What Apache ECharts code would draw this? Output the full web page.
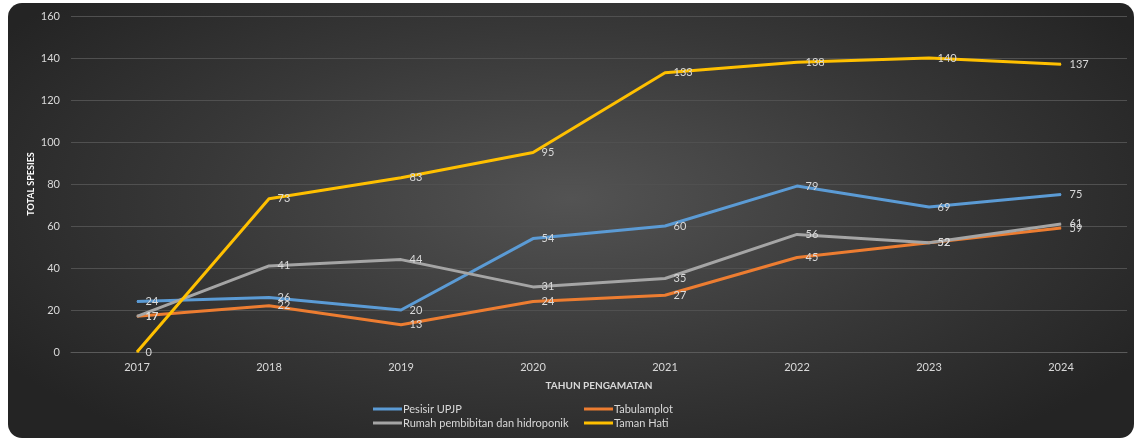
<!DOCTYPE html>
<html>
<head>
<meta charset="utf-8">
<script src="https://cdn.jsdelivr.net/npm/echarts@6/dist/echarts.min.js"></script>
<style>
html,body{margin:0;padding:0;background:#ffffff;width:1134px;height:438px;overflow:hidden;}
#bg{position:absolute;left:8px;top:3px;width:1126px;height:435px;border-radius:14px;
background:radial-gradient(ellipse 60% 70% at 50% 45%, #535353 0%, #383838 55%, #242424 100%);}
#chart{position:absolute;left:0;top:0;width:1134px;height:438px;}
</style>
</head>
<body>
<div id="bg"></div>
<div id="chart"></div>
<script>
const years = ['2017','2018','2019','2020','2021','2022','2023','2024'];
const pesisirUPJP = [24, 26, 20, 54, 60, 79, 69, 75];
const tabulamplot = [17, 22, 13, 24, 27, 45, 52, 59];
const rumahPembibitan = [17, 41, 44, 31, 35, 56, 52, 61];
const tamanHati = [0, 73, 83, 95, 133, 138, 140, 137];
const seriesNames = ['Pesisir UPJP','Tabulamplot','Rumah pembibitan dan hidroponik','Taman Hati'];
const seriesColors = ['#5B9BD5','#ED7D31','#A5A5A5','#FFC000'];
const seriesData = [pesisirUPJP, tabulamplot, rumahPembibitan, tamanHati];

const font = 'Lato, "Open Sans", sans-serif';
const legendPos = [[373, 402], [584, 402], [373, 416], [584, 416]];
const chart = echarts.init(document.getElementById('chart'));
chart.setOption({
  backgroundColor: 'transparent',
  textStyle: {fontFamily: font},
  grid: {left: 71, right: 7, top: 16, bottom: 86, containLabel: false},
  legend: seriesNames.map((n, i) => ({
    data: [n], orient: 'horizontal', left: legendPos[i][0], top: legendPos[i][1], padding: 0,
    itemWidth: 29, itemHeight: 3, itemGap: 0, icon: 'rect', selectedMode: false,
    textStyle: {color: '#d9d9d9', fontSize: 11, lineHeight: 14, padding: [0,0,0,-4]}
  })),
  xAxis: {
    type: 'category', data: years, boundaryGap: true,
    name: 'TAHUN PENGAMATAN', nameLocation: 'middle', nameGap: 29, nameMoveOverlap: false,
    nameTextStyle: {color: '#d9d9d9', fontSize: 10, fontWeight: 'bold'},
    axisLine: {lineStyle: {color: '#5a5a5a'}},
    axisTick: {show: false},
    axisLabel: {color: '#d9d9d9', fontSize: 11, margin: 10}
  },
  yAxis: {
    type: 'value', min: 0, max: 160, interval: 20,
    name: 'TOTAL SPESIES', nameLocation: 'middle', nameGap: 35, nameRotate: 90, nameMoveOverlap: false,
    nameTextStyle: {color: '#ffffff', fontSize: 9, fontWeight: 'bold'},
    axisLine: {show: false}, axisTick: {show: false},
    axisLabel: {color: '#d9d9d9', fontSize: 11, margin: 11},
    splitLine: {lineStyle: {color: '#505050', width: 1}}
  },
  series: seriesData.map((d, i) => ({
    name: seriesNames[i], type: 'line', data: d,
    symbol: 'circle', symbolSize: 1, showSymbol: true,
    itemStyle: {color: seriesColors[i]},
    lineStyle: {color: seriesColors[i], width: 3, join: 'round'},
    label: {show: true, position: 'right', distance: 8, color: '#d9d9d9', fontSize: 11},
    labelLayout: {hideOverlap: false},
    emphasis: {disabled: true},
    animation: false
  }))
});
</script>
</body>
</html>
